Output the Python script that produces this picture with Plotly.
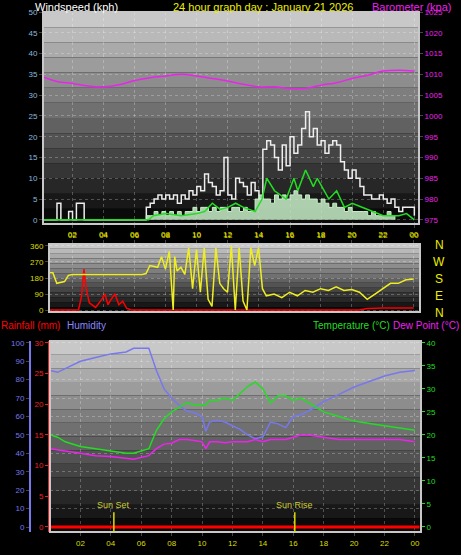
import numpy as np
import plotly.graph_objects as go

W, H = 461, 555
def px(x): return x / W
def py(y): return 1 - y / H

# ---------------- data ----------------
q = list(np.arange(0, 24.01, 0.25))  # 15-minute hours
gust = [0,0,0,0,4,0,0,2,0,4,4,0] + [0]*15 + [3,4,5,6,5,6,5,6,4,6,5,7,6,8,7,11,9,8,6,7,15,6,5,10,9,8,6,9,7,5,17,19,18,15,12,18,13,20,16,18,22,26,20,22,18,19,16,18,19,18,14,12,10,12,10,8,6,6,5,5,6,5,4,5,3,2,3,3,3,1]
avg = [0]*27 + [1,1,2,1,2,1,2,1,2,1,2,2,3,2,3,3,2,3,2,3,3,2,3,3,2,3,2,2,5,6,5,5,4,6,5,6,5,6,7,6,5,6,5,5,4,5,4,3,4,3,3,2,3,2,2,2,2,1,2,1,1,1,2,1,0]
wl_h = [0, 6.9, 7.2, 8, 9, 10, 10.5, 11, 11.5, 12, 12.5, 13, 13.75, 14.2, 14.5, 15, 15.75, 16.25, 16.5, 17, 17.5, 17.75, 18.5, 19, 19.5, 20, 21, 22, 23, 23.5, 24]
wl = [0, 0, 1, 1.5, 1, 1.5, 2, 4, 2.5, 3, 4, 3, 2, 5, 10, 7, 5, 10, 7, 12, 8, 10, 5, 7, 3, 4, 2.5, 1, 1, 1.5, 0]
baro_h = [0, 1, 2, 3, 4, 5, 6, 7, 8, 9, 10, 11, 12, 13, 14, 15, 16, 17, 18, 19, 20, 21, 22, 23, 24]
baro = [1009.5, 1008.3, 1007.8, 1007.2, 1007.0, 1007.5, 1008.5, 1009.2, 1009.6, 1010.0, 1009.6, 1009.0, 1008.4, 1007.6, 1007.0, 1007.0, 1006.6, 1006.6, 1007.4, 1008.0, 1009.0, 1009.8, 1010.8, 1011.0, 1010.8]

dir_h = [0, 0.75, 1, 1.5, 1.75, 2, 6.5, 6.75, 7, 7.5, 7.75, 8, 8.25, 8.5, 8.6, 8.75, 9, 9.25, 9.5, 9.75, 10, 10.25, 10.5, 10.75, 11, 11.25, 11.5, 11.75, 12, 12.25, 12.5, 12.75, 13, 13.25, 13.5, 13.75, 14, 14.25, 14.5, 15, 15.5, 16, 16.5, 17, 17.5, 18, 18.5, 19, 19.5, 20, 20.5, 21, 21.5, 22, 22.5, 23, 23.5, 24]
wdir = [210, 210, 150, 160, 195, 200, 200, 205, 250, 240, 300, 230, 330, 0, 300, 220, 240, 200, 350, 120, 340, 100, 350, 60, 20, 350, 150, 120, 100, 360, 0, 350, 50, 0, 350, 250, 350, 120, 80, 90, 70, 100, 80, 110, 100, 120, 110, 130, 110, 115, 100, 60, 90, 120, 150, 150, 170, 175]
rain_h = [0, 2.4, 2.6, 2.75, 2.9, 3.1, 3.5, 3.9, 4.1, 4.3, 4.5, 4.75, 5.0, 5.25, 5.5, 5.8, 20.5, 21, 22, 23, 24]
rain = [0, 0, 80, 230, 120, 40, 15, 60, 90, 30, 60, 90, 30, 50, 10, 0, 0, 8, 12, 10, 12]

h30 = [0, 0.5, 1, 2, 3, 4, 5, 5.5, 6.5, 7, 7.5, 8, 8.5, 9, 9.5, 10, 10.25, 10.5, 11, 11.5, 12, 12.5, 13, 13.5, 14, 14.5, 15, 15.5, 16, 16.5, 17, 18, 19, 20, 21, 22, 23, 24]
hum = [85, 84, 86, 90, 92, 94, 95, 97, 97, 85, 75, 70, 66, 63, 62, 60, 52, 57, 58, 57, 55, 53, 50, 48, 49, 57, 56, 54, 60, 61, 63, 68, 72, 76, 79, 82, 84, 85]
temp = [20, 19.5, 18.5, 17.5, 17, 16.5, 16, 16, 17, 21, 23.5, 25, 26, 27, 26.5, 26.5, 26.5, 27.5, 27.5, 28, 27.5, 29, 30.5, 31.5, 30, 27, 28.5, 28.5, 27.5, 28, 27, 25, 24, 23, 22.5, 22, 21.5, 21]
dew = [17, 16.8, 16.5, 16, 15.5, 15.3, 15, 14.7, 15.5, 17, 18, 18.2, 19, 19, 18.8, 18.5, 17, 18.5, 18.5, 18.3, 18.5, 18.5, 18.5, 19, 18.5, 19, 19, 19, 19.5, 20, 20, 19.5, 19, 19, 19, 19, 19, 18.5]
rain_tot = [0, 0]
rain_tot_h = [0, 24.3]
hour_ticks = [2, 4, 6, 8, 10, 12, 14, 16, 18, 20, 22, 24]
hour_labels = ["02", "04", "06", "08", "10", "12", "14", "16", "18", "20", "22", "00"]

fig = go.Figure()
fig.add_trace(go.Scatter(x=q, y=gust, mode="lines", line=dict(color="#eeeeee", width=1.5, shape="hv"), xaxis="x", yaxis="y"))
fig.add_trace(go.Scatter(x=q, y=avg, mode="lines", fill="tozeroy", fillcolor="rgba(200,240,200,0.85)", line=dict(color="rgba(200,240,200,1)", width=1, shape="hv"), xaxis="x", yaxis="y"))
fig.add_trace(go.Scatter(x=wl_h, y=wl, mode="lines", line=dict(color="#22dd22", width=1.5), xaxis="x", yaxis="y"))
fig.add_trace(go.Scatter(x=baro_h, y=baro, mode="lines", line=dict(color="#ee22ee", width=1.5, shape="spline"), xaxis="x", yaxis="y2"))
fig.add_trace(go.Scatter(x=rain_h, y=rain, mode="lines", line=dict(color="red", width=1.5), xaxis="x2", yaxis="y3"))
fig.add_trace(go.Scatter(x=dir_h, y=wdir, mode="lines", line=dict(color="#eeee22", width=1.5), xaxis="x2", yaxis="y3"))
fig.add_trace(go.Scatter(x=h30, y=hum, mode="lines", line=dict(color="#7777ee", width=1.5), xaxis="x3", yaxis="y4"))
fig.add_trace(go.Scatter(x=h30, y=temp, mode="lines", line=dict(color="#22dd22", width=1.5), xaxis="x3", yaxis="y5"))
fig.add_trace(go.Scatter(x=h30, y=dew, mode="lines", line=dict(color="#ee22ee", width=1.5), xaxis="x3", yaxis="y5"))
fig.add_trace(go.Scatter(x=rain_tot_h, y=rain_tot, mode="lines", line=dict(color="red", width=3), xaxis="x3", yaxis="y6"))

tf = dict(family="Arial", size=8)
grid = dict(showgrid=True, gridcolor="rgba(255,255,255,0.25)", griddash="dot", zeroline=False, ticks="outside", ticklen=3, automargin=False)
xcommon = dict(tickvals=hour_ticks, ticktext=hour_labels, tickfont=dict(tf, color="#dddd00"), **grid)
plain = dict(showgrid=False, zeroline=False, ticks="outside", ticklen=3, automargin=False)

shapes = []
def gradient(xr, yr, n=14):
    for i in range(n):
        v = int(200 - 190 * i / (n - 1))
        shapes.append(dict(type="rect", xref=xr + " domain", yref=yr + " domain", x0=0, x1=1,
                           y0=1 - (i + 1) / n, y1=1 - i / n, fillcolor=f"rgb({v},{v},{v})",
                           line=dict(width=0), layer="below"))
    shapes.append(dict(type="rect", xref=xr + " domain", yref=yr + " domain", x0=0, x1=1, y0=0, y1=1,
                       line=dict(color="#c8c8c8", width=2), layer="above"))
gradient("x", "y"); gradient("x2", "y3"); gradient("x3", "y4")
for hs in [4.2, 16.1]:
    shapes.append(dict(type="line", xref="x3", yref="y4", x0=hs, x1=hs, y0=-2.7, y1=8, line=dict(color="#dddd00", width=1.5)))

fig.update_layout(
    width=W, height=H, margin=dict(l=0, r=0, t=0, b=0, autoexpand=False), showlegend=False,
    paper_bgcolor="black", plot_bgcolor="black", shapes=shapes,
    xaxis=dict(domain=[px(43), px(419)], range=[0.1, 24.3], anchor="y", **xcommon),
    yaxis=dict(domain=[py(224), py(12)], range=[-1, 50], dtick=5, tickfont=dict(tf, color="#88bbdd"), **grid),
    yaxis2=dict(range=[974, 1025], dtick=5, overlaying="y", side="right", anchor="x", tickfont=dict(tf, color="#ee22ee"), **plain),
    xaxis2=dict(domain=[px(49), px(420)], range=[0.5, 24.4], anchor="y3", side="top", **xcommon),
    yaxis3=dict(domain=[py(312), py(244)], range=[-11, 371], tickvals=[0, 90, 180, 270, 360], anchor="x2", tickfont=dict(tf, color="#dddd00"), **grid),
    xaxis3=dict(domain=[px(50), px(421)], range=[0, 24.4], anchor="y4", **xcommon),
    yaxis4=dict(domain=[py(532), py(341)], range=[-2.7, 101], dtick=10, anchor="free", position=px(30), showline=True, linecolor="#7777ee", linewidth=2, tickfont=dict(tf, color="#7777ee"), **grid),
    yaxis5=dict(range=[-1.09, 40.4], dtick=5, overlaying="y4", side="right", anchor="x3", tickfont=dict(tf, color="#22dd22"), tickcolor="#22dd22", **plain),
    yaxis6=dict(range=[-0.82, 30.3], dtick=5, overlaying="y4", anchor="free", position=px(48), showline=True, linecolor="#dd2222", linewidth=1, tickfont=dict(tf, color="#ee2222"), tickcolor="#dd2222", **plain),
)

af = dict(family="Arial", size=10)
ann = [
    dict(x=px(34), y=py(0), text="Windspeed (kph)", font=dict(af, size=11, color="white")),
    dict(x=px(172), y=py(0), text="24 hour graph day : January 21 2026", font=dict(af, size=11, color="#eeee00")),
    dict(x=px(371), y=py(0), text="Barometer (kpa)", font=dict(af, size=11, color="#ee22ee")),
    dict(x=px(0), y=py(319), text="Rainfall (mm)", font=dict(af, color="red")),
    dict(x=px(66), y=py(319), text="Humidity", font=dict(af, color="#8888ff")),
    dict(x=px(312), y=py(319), text="Temperature (°C)", font=dict(af, color="#22dd22")),
    dict(x=px(392), y=py(319), text="Dew Point (°C)", font=dict(af, color="#ee22ee")),
]
for a in ann:
    a.update(xref="paper", yref="paper", xanchor="left", yanchor="top", showarrow=False, borderpad=0)
for i, d in enumerate(["N", "W", "S", "E", "N"]):
    ann.append(dict(xref="paper", yref="paper", x=px(439), y=py(245 + i * 17), text=d, showarrow=False,
                    font=dict(af, size=12, color="#eeee00"), xanchor="center", yanchor="middle"))
ann.append(dict(xref="x3", yref="y4", x=4.2, y=8, text="Sun Set", showarrow=False, yanchor="bottom", font=dict(af, size=9, color="#cccc33")))
ann.append(dict(xref="x3", yref="y4", x=16.1, y=8, text="Sun Rise", showarrow=False, yanchor="bottom", font=dict(af, size=9, color="#cccc33")))
fig.update_layout(annotations=ann)
fig.write_html("out.html", config={"displayModeBar": False},
               post_script="document.body.style.margin='0';document.body.style.background='black';")
